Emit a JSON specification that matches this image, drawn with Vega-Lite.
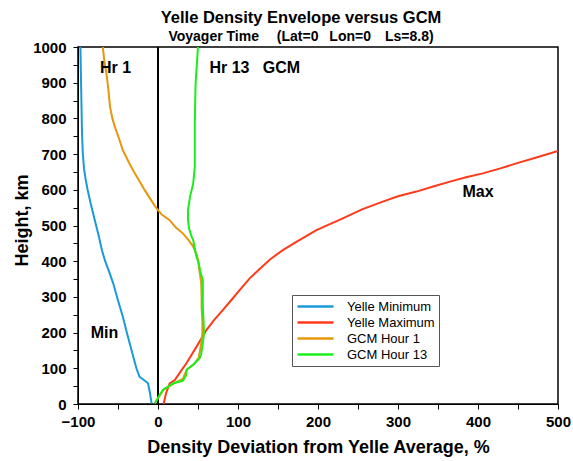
{
  "$schema": "https://vega.github.io/schema/vega-lite/v6.json",
  "width": 480,
  "height": 357,
  "autosize": {"type": "none"},
  "padding": {"left": 78, "top": 47, "right": 15, "bottom": 57},
  "background": "white",
  "config": {
    "font": "Liberation Sans",
    "view": {"stroke": "black", "strokeWidth": 1.5}
  },
  "title": {
    "text": "Yelle Density Envelope versus GCM",
    "subtitle": "Voyager Time\u2002\u2002 (Lat=0\u2002 Lon=0\u2002\u2002Ls=8.8)",
    "anchor": "middle",
    "frame": "group",
    "dx": -17,
    "offset": -4,
    "font": "Liberation Sans",
    "fontSize": 16.5,
    "fontWeight": "bold",
    "color": "black",
    "subtitleFont": "Liberation Sans",
    "subtitleFontSize": 14,
    "subtitleFontWeight": "bold",
    "subtitleColor": "black",
    "subtitlePadding": 4
  },
  "datasets": {
    "curves": [
      {"series": "Yelle Minimum", "x": -8, "h": 2},
      {"series": "Yelle Minimum", "x": -10, "h": 30},
      {"series": "Yelle Minimum", "x": -12.5, "h": 58},
      {"series": "Yelle Minimum", "x": -18, "h": 68},
      {"series": "Yelle Minimum", "x": -23, "h": 76},
      {"series": "Yelle Minimum", "x": -27, "h": 100},
      {"series": "Yelle Minimum", "x": -33, "h": 150},
      {"series": "Yelle Minimum", "x": -39, "h": 200},
      {"series": "Yelle Minimum", "x": -44, "h": 245},
      {"series": "Yelle Minimum", "x": -50, "h": 290},
      {"series": "Yelle Minimum", "x": -56, "h": 338},
      {"series": "Yelle Minimum", "x": -61, "h": 370},
      {"series": "Yelle Minimum", "x": -66, "h": 400},
      {"series": "Yelle Minimum", "x": -70, "h": 430},
      {"series": "Yelle Minimum", "x": -74, "h": 470},
      {"series": "Yelle Minimum", "x": -79, "h": 515},
      {"series": "Yelle Minimum", "x": -84, "h": 560},
      {"series": "Yelle Minimum", "x": -88, "h": 600},
      {"series": "Yelle Minimum", "x": -90.5, "h": 630},
      {"series": "Yelle Minimum", "x": -92.5, "h": 660},
      {"series": "Yelle Minimum", "x": -94, "h": 702},
      {"series": "Yelle Minimum", "x": -95, "h": 760},
      {"series": "Yelle Minimum", "x": -95.5, "h": 820},
      {"series": "Yelle Minimum", "x": -96, "h": 880},
      {"series": "Yelle Minimum", "x": -96.5, "h": 940},
      {"series": "Yelle Minimum", "x": -97, "h": 1000},
      {"series": "Yelle Maximum", "x": 7, "h": 0},
      {"series": "Yelle Maximum", "x": 10, "h": 30},
      {"series": "Yelle Maximum", "x": 14.6, "h": 58},
      {"series": "Yelle Maximum", "x": 21, "h": 67},
      {"series": "Yelle Maximum", "x": 28, "h": 90},
      {"series": "Yelle Maximum", "x": 35.5, "h": 114},
      {"series": "Yelle Maximum", "x": 48, "h": 160},
      {"series": "Yelle Maximum", "x": 60.5, "h": 207},
      {"series": "Yelle Maximum", "x": 70, "h": 235},
      {"series": "Yelle Maximum", "x": 81, "h": 263},
      {"series": "Yelle Maximum", "x": 92, "h": 292},
      {"series": "Yelle Maximum", "x": 102, "h": 319},
      {"series": "Yelle Maximum", "x": 114.6, "h": 352},
      {"series": "Yelle Maximum", "x": 127, "h": 378},
      {"series": "Yelle Maximum", "x": 140, "h": 405},
      {"series": "Yelle Maximum", "x": 156, "h": 431},
      {"series": "Yelle Maximum", "x": 175, "h": 457},
      {"series": "Yelle Maximum", "x": 198, "h": 487},
      {"series": "Yelle Maximum", "x": 231, "h": 520},
      {"series": "Yelle Maximum", "x": 255, "h": 545},
      {"series": "Yelle Maximum", "x": 281, "h": 567},
      {"series": "Yelle Maximum", "x": 300, "h": 582},
      {"series": "Yelle Maximum", "x": 323, "h": 595},
      {"series": "Yelle Maximum", "x": 345, "h": 610},
      {"series": "Yelle Maximum", "x": 365, "h": 623},
      {"series": "Yelle Maximum", "x": 385, "h": 635},
      {"series": "Yelle Maximum", "x": 406, "h": 646},
      {"series": "Yelle Maximum", "x": 428, "h": 660},
      {"series": "Yelle Maximum", "x": 448, "h": 674},
      {"series": "Yelle Maximum", "x": 475, "h": 692},
      {"series": "Yelle Maximum", "x": 500, "h": 709},
      {"series": "GCM Hour 1", "x": -4, "h": 2},
      {"series": "GCM Hour 1", "x": 7, "h": 40},
      {"series": "GCM Hour 1", "x": 20, "h": 58},
      {"series": "GCM Hour 1", "x": 31, "h": 70},
      {"series": "GCM Hour 1", "x": 36, "h": 96},
      {"series": "GCM Hour 1", "x": 45, "h": 112},
      {"series": "GCM Hour 1", "x": 51, "h": 130},
      {"series": "GCM Hour 1", "x": 54, "h": 170},
      {"series": "GCM Hour 1", "x": 55.5, "h": 198},
      {"series": "GCM Hour 1", "x": 55.5, "h": 230},
      {"series": "GCM Hour 1", "x": 54.5, "h": 272},
      {"series": "GCM Hour 1", "x": 54.5, "h": 300},
      {"series": "GCM Hour 1", "x": 54, "h": 340},
      {"series": "GCM Hour 1", "x": 52, "h": 370},
      {"series": "GCM Hour 1", "x": 50, "h": 405},
      {"series": "GCM Hour 1", "x": 48, "h": 420},
      {"series": "GCM Hour 1", "x": 44, "h": 441},
      {"series": "GCM Hour 1", "x": 38, "h": 460},
      {"series": "GCM Hour 1", "x": 31, "h": 478},
      {"series": "GCM Hour 1", "x": 22, "h": 495},
      {"series": "GCM Hour 1", "x": 14.6, "h": 515},
      {"series": "GCM Hour 1", "x": 5, "h": 530},
      {"series": "GCM Hour 1", "x": 0, "h": 543},
      {"series": "GCM Hour 1", "x": -4, "h": 555},
      {"series": "GCM Hour 1", "x": -10, "h": 576},
      {"series": "GCM Hour 1", "x": -16.6, "h": 599},
      {"series": "GCM Hour 1", "x": -22, "h": 620},
      {"series": "GCM Hour 1", "x": -29, "h": 646},
      {"series": "GCM Hour 1", "x": -36, "h": 675},
      {"series": "GCM Hour 1", "x": -44, "h": 711},
      {"series": "GCM Hour 1", "x": -49, "h": 745},
      {"series": "GCM Hour 1", "x": -54, "h": 777},
      {"series": "GCM Hour 1", "x": -57, "h": 800},
      {"series": "GCM Hour 1", "x": -60, "h": 833},
      {"series": "GCM Hour 1", "x": -62, "h": 880},
      {"series": "GCM Hour 1", "x": -64.5, "h": 926},
      {"series": "GCM Hour 1", "x": -67, "h": 960},
      {"series": "GCM Hour 1", "x": -69, "h": 1000},
      {"series": "GCM Hour 13", "x": -4, "h": 2},
      {"series": "GCM Hour 13", "x": 2, "h": 25},
      {"series": "GCM Hour 13", "x": 6, "h": 39},
      {"series": "GCM Hour 13", "x": 12, "h": 48},
      {"series": "GCM Hour 13", "x": 19, "h": 58},
      {"series": "GCM Hour 13", "x": 31, "h": 65},
      {"series": "GCM Hour 13", "x": 35, "h": 80},
      {"series": "GCM Hour 13", "x": 36, "h": 96},
      {"series": "GCM Hour 13", "x": 45, "h": 112},
      {"series": "GCM Hour 13", "x": 52, "h": 128},
      {"series": "GCM Hour 13", "x": 54, "h": 140},
      {"series": "GCM Hour 13", "x": 56, "h": 170},
      {"series": "GCM Hour 13", "x": 57.5, "h": 198},
      {"series": "GCM Hour 13", "x": 57, "h": 230},
      {"series": "GCM Hour 13", "x": 56, "h": 272},
      {"series": "GCM Hour 13", "x": 56, "h": 300},
      {"series": "GCM Hour 13", "x": 56, "h": 347},
      {"series": "GCM Hour 13", "x": 53, "h": 370},
      {"series": "GCM Hour 13", "x": 51, "h": 394},
      {"series": "GCM Hour 13", "x": 48, "h": 413},
      {"series": "GCM Hour 13", "x": 44, "h": 459},
      {"series": "GCM Hour 13", "x": 42, "h": 469},
      {"series": "GCM Hour 13", "x": 39, "h": 490},
      {"series": "GCM Hour 13", "x": 37.5, "h": 515},
      {"series": "GCM Hour 13", "x": 37.5, "h": 543},
      {"series": "GCM Hour 13", "x": 40, "h": 581},
      {"series": "GCM Hour 13", "x": 42, "h": 599},
      {"series": "GCM Hour 13", "x": 44, "h": 618},
      {"series": "GCM Hour 13", "x": 46, "h": 665},
      {"series": "GCM Hour 13", "x": 46, "h": 740},
      {"series": "GCM Hour 13", "x": 46, "h": 786},
      {"series": "GCM Hour 13", "x": 46.5, "h": 850},
      {"series": "GCM Hour 13", "x": 47, "h": 898},
      {"series": "GCM Hour 13", "x": 48.5, "h": 950},
      {"series": "GCM Hour 13", "x": 50, "h": 1000}
    ],
    "labels": [
      {"text": "Hr 1", "x": -53, "h": 940},
      {"text": "Hr 13 \u00a0\u00a0GCM", "x": 121, "h": 940},
      {"text": "Max", "x": 400, "h": 594},
      {"text": "Min", "x": -67, "h": 199}
    ]
  },
  "encoding": {
    "x": {
      "field": "x", "type": "quantitative",
      "scale": {"domain": [-100, 500], "nice": false, "zero": false},
      "axis": {
        "title": "Density Deviation from Yelle Average, %",
        "values": [-100, -50, 0, 50, 100, 150, 200, 250, 300, 350, 400, 450, 500],
        "format": "d",
        "labelExpr": "datum.value % 100 === 0 ? datum.label : ''",
        "labelOverlap": false,
        "grid": false,
        "domain": true,
        "domainColor": "black",
        "ticks": true,
        "tickColor": "black",
        "tickWidth": 1,
        "tickSize": 5,
        "labelColor": "black",
        "labelFont": "Liberation Sans",
        "labelFontSize": 15,
        "labelFontWeight": "bold",
        "labelPadding": 5,
        "labelFlush": false,
        "titleColor": "black",
        "titleFont": "Liberation Sans",
        "titleFontSize": 18,
        "titleFontWeight": "bold",
        "titlePadding": 9
      }
    },
    "y": {
      "field": "h", "type": "quantitative",
      "scale": {"domain": [0, 1000], "nice": false},
      "axis": {
        "title": "Height, km",
        "values": [0, 50, 100, 150, 200, 250, 300, 350, 400, 450, 500, 550, 600, 650, 700, 750, 800, 850, 900, 950, 1000],
        "format": "d",
        "labelExpr": "datum.value % 100 === 0 ? datum.label : ''",
        "labelOverlap": false,
        "grid": false,
        "domain": true,
        "domainColor": "black",
        "ticks": true,
        "tickColor": "black",
        "tickWidth": 1,
        "tickSize": 5,
        "labelColor": "black",
        "labelFont": "Liberation Sans",
        "labelFontSize": 15,
        "labelFontWeight": "bold",
        "labelPadding": 7,
        "labelFlush": false,
        "titleColor": "black",
        "titleFont": "Liberation Sans",
        "titleFontSize": 18,
        "titleFontWeight": "bold",
        "titleX": -56,
        "titleY": 173,
        "titleBaseline": "middle",
        "titleAlign": "center"
      }
    }
  },
  "layer": [
    {
      "data": {"values": [{"x": 0, "h": 0, "h2": 1000}]},
      "mark": {"type": "rule", "color": "black", "strokeWidth": 2},
      "encoding": {"y2": {"field": "h2"}}
    },
    {
      "data": {"name": "curves"},
      "mark": {"type": "line", "strokeWidth": 2, "clip": true},
      "encoding": {
        "order": {"field": "h", "type": "quantitative"},
        "color": {
          "field": "series", "type": "nominal",
          "scale": {
            "domain": ["Yelle Minimum", "Yelle Maximum", "GCM Hour 1", "GCM Hour 13"],
            "range": ["#1a9ad8", "#ff3a1a", "#e8960c", "#1aef1a"]
          },
          "sort": null,
          "legend": {
            "title": null,
            "orient": "none",
            "legendX": 214,
            "legendY": 248,
            "symbolType": "M-1,0H5",
            "symbolSize": 144,
            "symbolStrokeWidth": 2.5,
            "labelFont": "Liberation Sans",
            "labelFontSize": 13,
            "labelColor": "black",
            "labelOffset": 36,
            "rowPadding": 1,
            "padding": 4,
            "strokeColor": "#555555",
            "fillColor": "white",
            "labelLimit": 200
          }
        }
      }
    },
    {
      "data": {"name": "labels"},
      "mark": {"type": "text", "font": "Liberation Sans", "fontSize": 16, "fontWeight": "bold", "color": "black", "align": "center", "baseline": "middle"},
      "encoding": {
        "text": {"field": "text"}
      }
    }
  ]
}
